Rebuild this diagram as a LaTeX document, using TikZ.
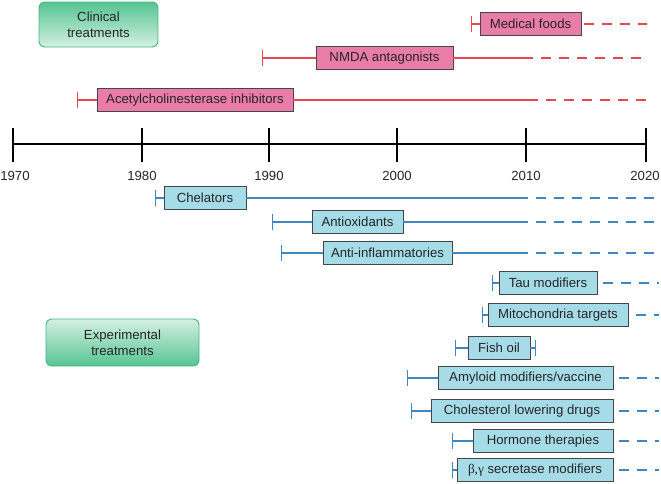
\documentclass[tikz,border=0pt]{standalone}
\usepackage{fontspec}
\setmainfont{Liberation Sans}
\newfontfamily\grkfont{Liberation Serif}
\usetikzlibrary{arrows.meta}

\definecolor{clinfill}{RGB}{234,124,170}
\definecolor{clinline}{RGB}{230,72,82}
\definecolor{expfill}{RGB}{166,220,232}
\definecolor{expline}{RGB}{60,134,196}
\definecolor{grdark}{RGB}{86,196,146}
\definecolor{grlight}{RGB}{212,240,227}
\definecolor{grline}{RGB}{64,182,128}
\definecolor{boxline}{RGB}{70,70,70}

\begin{document}
\begin{tikzpicture}[x=1pt,y=-1pt,
    every node/.style={font=\fontsize{13.2}{16}\selectfont,text=black!85},
    trt/.style={draw=boxline,line width=.8pt,minimum height=23pt,inner sep=0pt},
    clin/.style={trt,fill=clinfill},
    expt/.style={trt,fill=expfill},
    group/.style={draw=grline,line width=.9pt,rounded corners=6pt,align=center,inner sep=0pt}]
    \tikzstyle{cline}=[clinline,line width=1.4pt]
    \tikzstyle{eline}=[expline,line width=1.4pt]
    \tikzstyle{later}=[dash pattern=on 10pt off 8pt,dash phase=10pt]
    \tikzstyle{start}=[{Bar[width=16pt]}-]

    \useasboundingbox (0,0) rectangle (661,483);

    % time axis
    \draw[line width=1.6pt] (13,144) -- (646,144);
    \foreach \yr/\x/\lx in {1970/13/15,1980/142/142,1990/269/269,2000/397/397,2010/526/526,2020/646/645}{
      \draw[line width=1.6pt] (\x,128) -- (\x,162);
      \node (y\yr) at (\lx,176) {\yr};
    }

    % groups
    \node[group,top color=grdark,bottom color=grlight,minimum width=119pt,minimum height=45pt] (clinical) at (98.5,24.5) {Clinical\\treatments};
    \node[group,top color=grlight,bottom color=grdark,minimum width=153pt,minimum height=47pt] (experimental) at (122.5,342.5) {Experimental\\treatments};

    % clinical treatments
    \node[clin,minimum width=101pt] (food) at (530.5,24) {Medical foods};
    \node[clin,minimum width=137pt] (nmda) at (384.5,58) {NMDA antagonists};
    \node[clin,minimum width=196pt] (ache) at (195,100) {Acetylcholinesterase inhibitors};

    \coordinate (food-s) at (471,24);  \coordinate (food-e) at (647,24);
    \coordinate (nmda-s) at (262,58);  \coordinate (nmda-m) at (533,58);  \coordinate (nmda-e) at (647,58);
    \coordinate (ache-s) at (77,100);  \coordinate (ache-m) at (538,100); \coordinate (ache-e) at (647,100);

    \draw[cline,start] (food-s) -- (food.west);
    \draw[cline,later] ([xshift=-5pt]food.east) -- (food-e);
    \draw[cline,start] (nmda-s) -- (nmda.west);
    \draw[cline] (nmda.east) -- (nmda-m);
    \draw[cline,later] (nmda-m) -- (nmda-e);
    \draw[cline,start] (ache-s) -- (ache.west);
    \draw[cline] (ache.east) -- (ache-m);
    \draw[cline,later] (ache-m) -- (ache-e);

    % experimental treatments
    \node[expt,minimum width=82pt] (chel) at (205,198) {Chelators};
    \node[expt,minimum width=91pt] (antiox) at (357.5,222) {Antioxidants};
    \node[expt,minimum width=129pt] (antiinf) at (387.5,253) {Anti-inflammatories};
    \node[expt,minimum width=98pt] (tau) at (548,283) {Tau modifiers};
    \node[expt,minimum width=140pt] (mito) at (558,315) {Mitochondria targets};
    \node[expt,minimum width=62pt] (fish) at (499,348) {Fish oil};
    \node[expt,minimum width=175pt] (amyl) at (525.5,378) {Amyloid modifiers/vaccine};
    \node[expt,minimum width=182pt] (chol) at (522,411) {Cholesterol lowering drugs};
    \node[expt,minimum width=140pt] (horm) at (543,441) {Hormone therapies};
    \node[expt,minimum width=156pt] (secr) at (535,470) {{\grkfont β,γ} secretase modifiers};

    \coordinate (chel-s) at (155,198);    \coordinate (chel-m) at (528,198);    \coordinate (chel-e) at (659,198);
    \coordinate (antiox-s) at (272,222);  \coordinate (antiox-m) at (528,222);  \coordinate (antiox-e) at (659,222);
    \coordinate (antiinf-s) at (281,253); \coordinate (antiinf-m) at (528,253); \coordinate (antiinf-e) at (659,253);
    \coordinate (tau-s) at (492,283);     \coordinate (tau-e) at (659,283);
    \coordinate (mito-s) at (482,315);    \coordinate (mito-e) at (659,315);
    \coordinate (fish-s) at (455,348);    \coordinate (fish-e) at (536,348);
    \coordinate (amyl-s) at (407,378);    \coordinate (amyl-e) at (659,378);
    \coordinate (chol-s) at (411,411);    \coordinate (chol-e) at (659,411);
    \coordinate (horm-s) at (452,441);    \coordinate (horm-e) at (659,441);
    \coordinate (secr-s) at (452,470);    \coordinate (secr-e) at (659,470);

    \draw[eline,start] (chel-s) -- (chel.west);
    \draw[eline] (chel.east) -- (chel-m);
    \draw[eline,later] (chel-m) -- (chel-e);
    \draw[eline,start] (antiox-s) -- (antiox.west);
    \draw[eline] (antiox.east) -- (antiox-m);
    \draw[eline,later] (antiox-m) -- (antiox-e);
    \draw[eline,start] (antiinf-s) -- (antiinf.west);
    \draw[eline] (antiinf.east) -- (antiinf-m);
    \draw[eline,later] (antiinf-m) -- (antiinf-e);
    \draw[eline,start] (tau-s) -- (tau.west);
    \draw[eline,later] ([xshift=-2pt]tau.east) -- (tau-e);
    \draw[eline,start] (mito-s) -- (mito.west);
    \draw[eline,later] (mito.east) -- (mito-e);
    \draw[eline,start] (fish-s) -- (fish.west);
    \draw[eline,-{Bar[width=16pt]}] (fish.east) -- (fish-e);
    \draw[eline,start] (amyl-s) -- (amyl.west);
    \draw[eline,later] ([xshift=-2pt]amyl.east) -- (amyl-e);
    \draw[eline,start] (chol-s) -- (chol.west);
    \draw[eline,later] ([xshift=-2pt]chol.east) -- (chol-e);
    \draw[eline,start] (horm-s) -- (horm.west);
    \draw[eline,later] ([xshift=-2pt]horm.east) -- (horm-e);
    \draw[eline,start] (secr-s) -- (secr.west);
    \draw[eline,later] ([xshift=-2pt]secr.east) -- (secr-e);

  \end{tikzpicture}
\end{document}
